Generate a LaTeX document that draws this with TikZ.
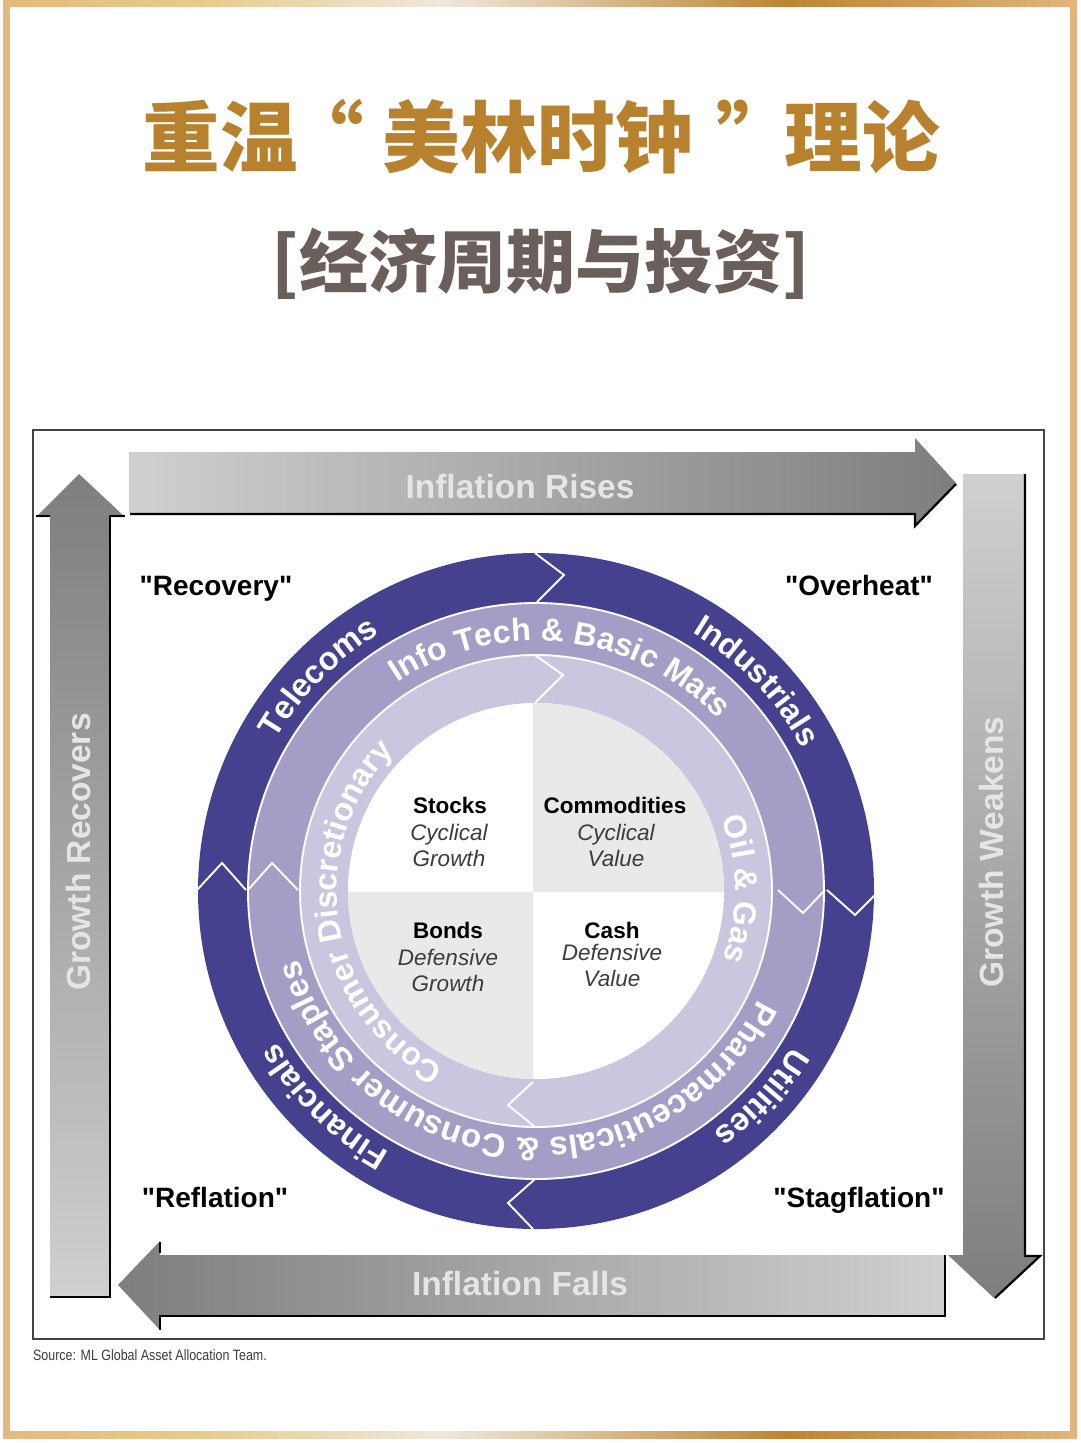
\documentclass[tikz,border=0pt]{standalone}
\usepackage{fontspec}
\setmainfont{Liberation Sans}
\newfontfamily\plainsans{Liberation Sans}
\newfontfamily\cjk{Noto Sans CJK SC}
\usetikzlibrary{decorations.text}
\definecolor{goldA}{HTML}{E3BA7D}
\definecolor{goldD}{HTML}{E8CA88}
\definecolor{goldB}{HTML}{F0E8DC}
\definecolor{goldC}{HTML}{BE8530}
\definecolor{goldE}{HTML}{E3B57C}
\definecolor{titlegold}{HTML}{B8812E}
\definecolor{titlegray}{HTML}{6B5F5C}
\definecolor{ringA}{HTML}{46418F}
\definecolor{ringB}{HTML}{A49DC6}
\definecolor{ringC}{HTML}{C9C6E0}
\definecolor{quad}{HTML}{E9E9E9}
\definecolor{arrowD}{HTML}{7E7E7E}
\definecolor{arrowL}{HTML}{D0D0D0}
\definecolor{framegray}{HTML}{444444}
\definecolor{labelgray}{HTML}{3C3C3C}
\newcommand{\fsz}[1]{\fontsize{#1}{#1}\selectfont}
\newcommand{\ringtext}[5]{%
  \path[decorate,decoration={text along path,text align=center,
     text={|\fsz{#4}\bfseries\color{white}|#5}}]
     (c) ++(#1:#3pt) arc[start angle=#1,end angle=#2,radius=#3pt];}
\newcommand{\goldstrip}[2]{%
  \shade[left color=goldA,right color=goldD] (3,#1) rectangle (193,#2);
  \shade[left color=goldD,right color=goldB] (193,#1) rectangle (441,#2);
  \shade[left color=goldB,right color=goldC] (441,#1) rectangle (786,#2);
  \shade[left color=goldC,right color=goldE] (786,#1) rectangle (1077,#2);}
\tikzset{
  chev/.style={draw=white,line width=1.9pt,miter limit=10},
  sep/.style={draw=white,line width=1.9pt},
  edgeb/.style={draw=black,line width=2.2pt},
  bartext/.style={font=\fsz{33.5}\bfseries,text=white!90!black},
  phase/.style={font=\plainsans\fsz{28}\bfseries,text=black,anchor=base},
  qhead/.style={font=\fsz{22.5}\bfseries,text=black,anchor=base},
  qsub/.style={font=\fsz{22.5}\itshape,text=labelgray,anchor=base}
}
\begin{document}
\begin{tikzpicture}[x=1pt,y=1pt]
\useasboundingbox (0,-1443) rectangle (1080,0);
\fill[white] (0,-1443) rectangle (1080,0);
% page border
\goldstrip{0}{-6}
\goldstrip{-1431}{-1438}
\fill[goldA] (3,0) rectangle (10,-1438);
\fill[goldE] (1070,0) rectangle (1077,-1438);
% titles
\node[text=titlegold,font=\cjk\bfseries\fsz{77.5}] (title) at (541,-137) {重温\hspace{-11pt}“\hspace{19pt}美林时钟\hspace{24pt}”\hspace{-10pt}理论};
\node[text=titlegray,font=\cjk\bfseries\fsz{69}] (subtitle) at (540.5,-264) {[经济周期与投资]};
% frame
\draw[framegray,line width=1.8pt] (33,-430) rectangle (1044,-1339);
\node[anchor=west,inner sep=0pt,text=labelgray,font=\fsz{15},xscale=.83,transform shape] (source) at (33,-1355) {Source: ML Global Asset Allocation Team.};
% top arrow
\shade[left color=arrowL,right color=arrowD] (129,-452) -- (915,-452) -- (915,-438) -- (956,-483) -- (915,-527) -- (915,-513) -- (129,-513) -- cycle;
\draw[edgeb] (130,-514) -- (915,-514) -- (915,-526) -- (956,-484);
\node[bartext] (rises) at (520,-487) {Inflation Rises};
% right arrow
\shade[top color=arrowL,bottom color=arrowD] (963,-474) -- (1025,-474) -- (1025,-1255) -- (1040,-1255) -- (994,-1298) -- (948,-1255) -- (963,-1255) -- cycle;
\draw[edgeb] (1025,-474) -- (1025,-1256) -- (1040,-1256) -- (995,-1298);
\node[bartext,rotate=90] (weakens) at (992,-852) {Growth Weakens};
% left arrow
\shade[top color=arrowD,bottom color=arrowL] (50,-517) -- (36,-517) -- (79,-474) -- (125,-517) -- (110,-517) -- (110,-1297) -- (50,-1297) -- cycle;
\draw[edgeb] (36,-516) -- (50,-516);
\draw[edgeb] (125,-516) -- (110,-516) -- (110,-1297) -- (50,-1297);
\node[bartext,rotate=90] (recovers) at (79,-852) {Growth Recovers};
% bottom arrow
\shade[left color=arrowD,right color=arrowL] (160,-1255) -- (160,-1241) -- (118,-1285) -- (160,-1330) -- (160,-1315) -- (945,-1315) -- (945,-1255) -- cycle;
\draw[edgeb] (160,-1242) -- (160,-1253);
\draw[edgeb] (160,-1330) -- (160,-1316) -- (945,-1316) -- (945,-1255);
\node[bartext] (falls) at (520,-1284) {Inflation Falls};
% phases
\node[phase] (recovery) at (216,-595) {"Recovery"};
\node[phase] (overheat) at (859,-595) {"Overheat"};
\node[phase] (reflation) at (215,-1207) {"Reflation"};
\node[phase] (stagflation) at (859,-1207) {"Stagflation"};
% rings
\coordinate (c) at (536,-891);
\fill[ringA] (c) circle (338pt);
\fill[ringB] (c) circle (288pt);
\fill[ringC] (c) circle (236pt);
\draw[sep] (c) circle (288pt);
\draw[sep] (c) circle (236pt);
\fill[white] (c) circle (188pt);
% quadrants
\begin{scope}
\clip (c) circle (188pt);
\fill[quad] (533,-892) rectangle (730,-700);
\fill[quad] (340,-892) rectangle (533,-1085);
\end{scope}
% chevrons
\draw[chev] (535,-553) -- (564,-575) -- (537,-602);
\draw[chev] (827,-890) -- (855,-915) -- (875,-895);
\draw[chev] (533,-1229) -- (508,-1203) -- (535,-1179);
\draw[chev] (197,-890) -- (222,-863) -- (246,-890);
\draw[chev] (778,-890) -- (803,-913) -- (825,-890);
\draw[chev] (248,-890) -- (272,-863) -- (298,-890);
\draw[chev] (535,-655) -- (563,-675) -- (535,-703);
\draw[chev] (533,-1082) -- (508,-1105) -- (535,-1127);
% ring labels
\ringtext{153}{118}{301}{32.5}{Telecoms}
\ringtext{62}{25}{302}{32}{Industrials}
\ringtext{128}{39}{250}{32}{Info Tech {\&} Basic Mats}
\ringtext{248}{130}{199}{32}{Consumer Discretionary}
\ringtext{24}{-23}{199}{32}{Oil {\&} Gas}
\ringtext{-24}{-166}{247}{33}{Pharmaceuticals {\&} Consumer Staples}
\ringtext{-28}{-57}{300}{32.5}{Utilities}
\ringtext{-118}{-151}{300}{32.5}{Financials}
% quadrant labels
\node[qhead] (stocks) at (450,-813) {Stocks};
\node[qsub] (stocksa) at (449,-840) {Cyclical};
\node[qsub] (stocksb) at (449,-866) {Growth};
\node[qhead] (comm) at (615,-813) {Commodities};
\node[qsub] (comma) at (616,-840) {Cyclical};
\node[qsub] (commb) at (616,-866) {Value};
\node[qhead] (bonds) at (448,-938) {Bonds};
\node[qsub] (bondsa) at (448,-965) {Defensive};
\node[qsub] (bondsb) at (448,-991) {Growth};
\node[qhead] (cash) at (612,-938) {Cash};
\node[qsub] (casha) at (612,-960) {Defensive};
\node[qsub] (cashb) at (612,-986) {Value};
\end{tikzpicture}
\end{document}
